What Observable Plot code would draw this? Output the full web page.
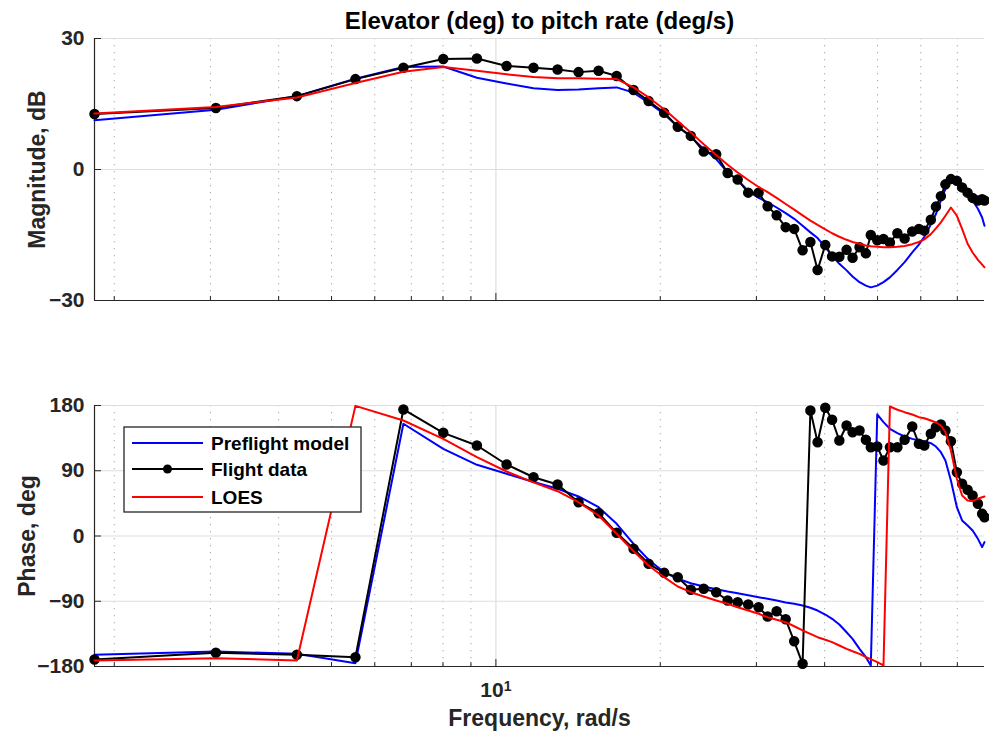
<!DOCTYPE html>
<html>
<head>
<meta charset="utf-8">
<script src="https://cdn.jsdelivr.net/npm/d3@7"></script>
<script src="https://cdn.jsdelivr.net/npm/@observablehq/plot@0.6"></script>
<style>
  body { margin: 0; background: #fff; }
  #wrap { position: relative; width: 989px; height: 741px; background: #fff; font-family: "Liberation Sans", Arial, sans-serif; }
  #top { position: absolute; left: 0; top: 0; }
  #bot { position: absolute; left: 0; top: 360px; }
  #legend { position: absolute; left: 123px; top: 426px; }
</style>
</head>
<body>
<div id="wrap">
  <div id="top"></div>
  <div id="bot"></div>
</div>
<script>
// ---------- data ----------
const freq = [1.84, 3.07, 4.32, 5.53, 6.77, 8.01, 9.23, 10.46, 11.72, 12.97,
  14.17, 15.42, 16.64, 17.87, 19.04, 20.33, 21.53, 22.75, 24.02, 25.32,
  26.57, 27.72, 28.98, 30.28, 31.45, 32.67, 33.94, 35.18, 36.45, 37.67,
  38.83, 40.11, 41.28, 42.56, 43.88, 45.0, 46.34, 47.6, 48.6, 49.94,
  51.27, 52.68, 54.37, 56.05, 57.88, 59.53, 60.9, 62.6, 63.96, 65.31,
  66.57, 68.13, 69.87, 71.42, 73.1, 74.66, 76.35, 77.72, 78.5];

const magPreflight = [11.3, 13.7, 16.8, 20.8, 23.5, 23.6, 21.0, 19.7, 18.6, 18.2,
  18.3, 18.6, 18.8, 17.6, 15.3, 12.7, 9.8, 7.5, 4.7, 2.4,
  -0.7, -2.4, -4.9, -6.5, -7.5, -8.7, -10.0, -11.3, -12.9, -14.4,
  -15.7, -17.8, -19.7, -21.6, -23.1, -24.5, -25.8, -26.6, -27.0, -26.6,
  -25.8, -24.7, -23.0, -21.2, -19.0, -17.2, -15.4, -12.6, -10.2, -7.1,
  -4.5, -2.6, -2.4, -3.5, -5.6, -7.1, -9.0, -11.0, -12.9];

const magFlight = [12.7, 14.1, 16.8, 20.7, 23.3, 25.3, 25.4, 23.7, 23.3, 22.9,
  22.3, 22.6, 21.4, 18.2, 15.7, 13.0, 9.8, 7.7, 4.1, 3.5,
  -0.8, -2.3, -5.3, -5.3, -8.4, -10.5, -13.2, -13.6, -18.5, -16.6,
  -23.0, -17.3, -19.9, -20.0, -18.4, -20.2, -17.8, -19.2, -15.0, -16.2,
  -15.9, -16.7, -14.6, -15.8, -14.2, -13.6, -14.0, -11.5, -8.5, -6.1,
  -3.4, -2.2, -2.6, -4.1, -5.3, -6.5, -7.1, -6.8, -7.1];

const magLOES = [12.8, 14.3, 16.5, 19.8, 22.4, 23.5, 22.6, 21.8, 21.2, 20.9,
  20.9, 20.8, 20.7, 18.8, 16.5, 13.8, 11.1, 8.5, 5.8, 3.3,
  1.1, -0.7, -2.4, -4.0, -5.2, -6.5, -7.9, -9.2, -10.5, -11.7,
  -12.7, -13.7, -14.6, -15.4, -16.1, -16.6, -17.0, -17.4, -17.6, -17.7,
  -17.8, -17.8, -17.7, -17.5, -17.1, -16.6, -16.0, -14.8, -13.5, -12.1,
  -10.6, -8.7, -10.6, -13.6, -17.0, -19.0, -20.7, -21.8, -22.4];

const phasePreflight = [-163.9, -159.3, -162.5, -175.4, 154.8, 120.3, 98.2, 85.8, 74.5, 65.1,
  54.5, 39.7, 16.8, -10.8, -32.8, -49.9, -59.0, -65.1, -69.7, -73.4,
  -76.6, -78.9, -81.6, -84.4, -86.6, -89.0, -91.7, -93.5, -95.9, -99.0,
  -102.8, -108.3, -114.2, -122.1, -132.7, -141.8, -155.6, -167.2, -178.6, 167.8,
  157.0, 147.9, 141.8, 137.2, 134.0, 131.7, 130.8, 128.0, 123.4, 115.6,
  104.1, 76.6, 39.7, 21.4, 14.5, 7.6, -3.9, -15.4, -8.5];

const phaseFlight = [-170.3, -161.1, -163.9, -167.2, 174.5, 142.3, 124.8, 98.6, 81.0, 71.0,
  46.6, 31.4, 4.4, -17.7, -38.3, -50.8, -56.8, -74.2, -72.8, -77.5,
  -89.0, -91.3, -94.5, -98.2, -111.0, -103.7, -114.9, -145.2, -176.3, 173.1,
  129.4, 176.8, 160.3, 131.7, 152.4, 143.2, 145.5, 132.7, 122.5, 123.4,
  104.1, 122.5, 122.5, 132.7, 151.0, 127.2, 124.8, 141.0, 150.1, 153.8,
  145.5, 130.8, 88.0, 72.0, 63.7, 55.9, 44.4, 30.6, 25.9];

const phaseLOES = [-171.7, -168.5, -171.7, 179.5, 159.3, 134.0, 108.7, 89.0, 74.0, 61.8,
  46.6, 28.3, 3.0, -21.0, -40.7, -56.8, -69.7, -77.5, -83.4, -89.0,
  -93.5, -98.2, -102.8, -107.3, -112.0, -115.6, -118.9, -124.5, -130.3, -134.9,
  -139.6, -143.2, -146.4, -151.0, -155.6, -158.9, -162.5, -167.2, -169.9, -174.0,
  -178.6, 178.6, 174.1, 170.8, 167.6, 163.9, 162.5, 159.3, 156.6, 152.4,
  143.2, 118.0, 78.9, 55.9, 49.0, 48.0, 51.3, 53.5, 54.5];

const seriesNames = ["Preflight model", "Flight data", "LOES"];
const seriesColors = ["#0000ff", "#000000", "#ff0000"];
const magTicks = [-30, 0, 30];
const phaseTicks = [-180, -90, 0, 90, 180];
const majorX = [10];
const minorX = [2, 3, 4, 5, 6, 7, 8, 9, 20, 30, 40, 50, 60, 70];
const titleText = "Elevator (deg) to pitch rate (deg/s)";
const xLabelText = "Frequency, rad/s";
const magLabelText = "Magnitude, dB";
const phaseLabelText = "Phase, deg";

// ---------- drawing ----------
const FONT = "Liberation Sans, Arial, Helvetica, sans-serif";
const AXIS = "#262626";
const xDomain = [freq[0], freq[freq.length - 1]];
const blank = () => "";

function panel({height, marginTop, marginBottom, yDomain, yTicks, series, yLabel, yLabelDx, extra}) {
  const [pre, fl, lo] = series;
  return Plot.plot({
    width: 989, height,
    marginLeft: 94, marginRight: 5, marginTop, marginBottom,
    style: {fontFamily: FONT, fontWeight: "bold", color: AXIS, background: "transparent", overflow: "visible"},
    x: {type: "log", domain: xDomain},
    y: {domain: yDomain},
    marks: [
      Plot.ruleX(minorX, {stroke: "#a8a8a8", strokeDasharray: "1.3,5.7"}),
      Plot.ruleX(majorX, {stroke: "#dedede", strokeWidth: 1.2}),
      Plot.ruleY(yTicks, {stroke: "#dedede", strokeWidth: 1.2}),
      Plot.axisY(yTicks, {tickSize: -7, tickFormat: blank, label: null, stroke: AXIS}),
      Plot.axisY(yTicks, {tickSize: 0, tickPadding: 10, fontSize: 21, label: null, fill: AXIS}),
      Plot.axisX(majorX, {tickSize: -7, tickFormat: blank, label: null, stroke: AXIS}),
      Plot.axisX(minorX, {tickSize: -4, tickFormat: blank, label: null, stroke: AXIS}),
      Plot.ruleX([xDomain[0]], {stroke: AXIS, strokeWidth: 1.2}),
      Plot.ruleY([yDomain[0]], {stroke: AXIS, strokeWidth: 1.2}),
      Plot.line(pre, {x: freq, y: pre, stroke: seriesColors[0], strokeWidth: 2}),
      Plot.line(fl, {x: freq, y: fl, stroke: seriesColors[1], strokeWidth: 2}),
      Plot.dot(fl, {x: freq, y: fl, r: 4.5, fill: seriesColors[1], stroke: seriesColors[1]}),
      Plot.line(lo, {x: freq, y: lo, stroke: seriesColors[2], strokeWidth: 2}),
      Plot.text([yLabel], {frameAnchor: "left", textAnchor: "middle", lineAnchor: "middle", rotate: -90, dx: yLabelDx, fontSize: 23, fontWeight: "bold", fill: AXIS}),
      ...extra
    ]
  });
}

const magPlot = panel({
  height: 320, marginTop: 38, marginBottom: 20,
  yDomain: [-30, 30], yTicks: magTicks,
  series: [magPreflight, magFlight, magLOES],
  yLabel: magLabelText, yLabelDx: -57,
  extra: [
    Plot.text([titleText], {frameAnchor: "top", lineAnchor: "middle", dy: -17, fontSize: 24, fontWeight: "bold", fill: "#000"})
  ]
});

const phasePlot = panel({
  height: 381, marginTop: 45, marginBottom: 75,
  yDomain: [-180, 180], yTicks: phaseTicks,
  series: [phasePreflight, phaseFlight, phaseLOES],
  yLabel: phaseLabelText, yLabelDx: -67,
  extra: [
    Plot.axisX(majorX, {tickSize: 0, tickPadding: 16, fontSize: 21, fill: AXIS, label: null, tickFormat: () => "10"}),
    Plot.text([xLabelText], {frameAnchor: "bottom", lineAnchor: "middle", dy: 52, fontSize: 23, fontWeight: "bold", fill: AXIS})
  ]
});

document.getElementById("top").appendChild(magPlot);
document.getElementById("bot").appendChild(phasePlot);

// superscript exponent for the decade label (10^1)
d3.select(phasePlot).selectAll("text").each(function () {
  const t = d3.select(this);
  if (t.text() === "10") t.append("tspan").attr("dy", "-0.45em").attr("font-size", "14px").text("1");
});

// ---------- legend ----------
const lg = d3.select("#wrap").append("svg")
  .attr("id", "legend").attr("width", 240).attr("height", 88)
  .style("font-family", FONT).style("font-weight", "bold");
lg.append("rect").attr("x", 1).attr("y", 1).attr("width", 237).attr("height", 85)
  .attr("fill", "#fff").attr("stroke", AXIS).attr("stroke-width", 1.3);
const rowY = [17, 43, 71];
seriesNames.forEach((name, i) => {
  lg.append("line").attr("x1", 9).attr("x2", 80).attr("y1", rowY[i]).attr("y2", rowY[i])
    .attr("stroke", seriesColors[i]).attr("stroke-width", 2);
  if (i === 1) lg.append("circle").attr("cx", 44.5).attr("cy", rowY[i]).attr("r", 4.5).attr("fill", "#000");
  lg.append("text").attr("x", 88).attr("y", rowY[i]).attr("dy", "0.36em")
    .attr("font-size", 19).attr("fill", "#000").text(name);
});
</script>
</body>
</html>
